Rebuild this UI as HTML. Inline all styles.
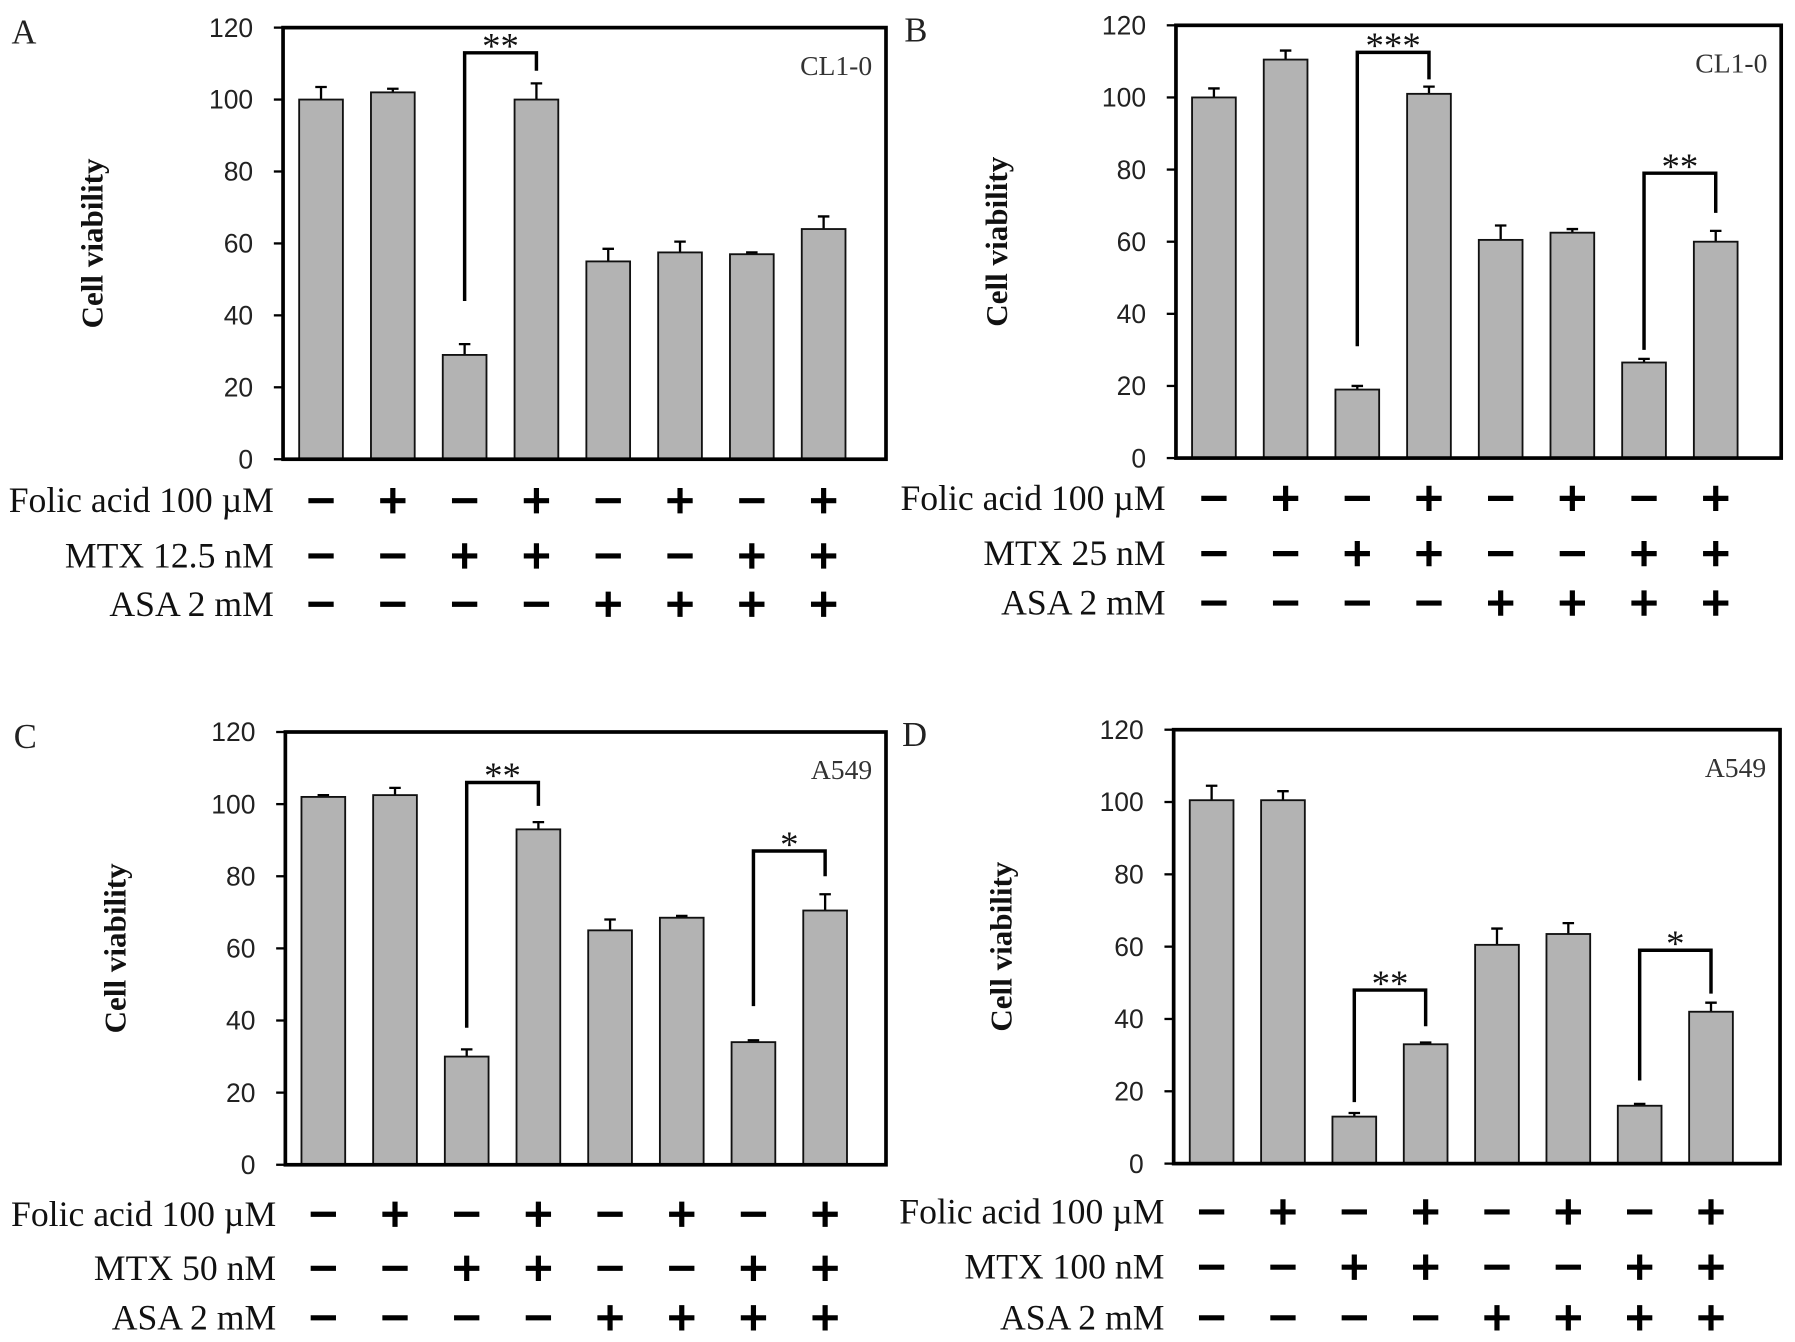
<!DOCTYPE html>
<html><head><meta charset="utf-8"><style>
html,body{margin:0;padding:0;background:#fff}
svg{display:block}
.tick{font-family:"Liberation Sans",sans-serif;font-size:23px;fill:#222}
.lab{font-family:"Liberation Serif",serif;font-size:31px;fill:#111}
.let{font-family:"Liberation Serif",serif;font-size:30px;fill:#222}
.cell{font-family:"Liberation Serif",serif;font-size:24px;fill:#333}
.yt{font-family:"Liberation Serif",serif;font-size:27px;font-weight:bold;fill:#111}
.star{font-family:"Liberation Serif",serif;font-size:32px;fill:#111}
</style></head><body>
<svg id="fig" width="1795" height="1342" viewBox="0 0 1560 1166" preserveAspectRatio="none" xmlns="http://www.w3.org/2000/svg"></svg>
<script>
const ticks=[0,20,40,60,80,100,120];
const folic=[0,1,0,1,0,1,0,1];
const mtx=[0,0,1,1,0,0,1,1];
const asa=[0,0,0,0,1,1,1,1];
const valsA=[100,102,29,100,55,57.5,57,64];
const errA=[3.5,1,3,4.5,3.5,3,0.5,3.5];
const valsB=[100,110.5,19,101,60.5,62.5,26.5,60];
const errB=[2.5,2.5,1,2,4,1,1,3];
const valsC=[102,102.5,30,93,65,68.5,34,70.5];
const errC=[0.5,2,2,2,3,0.5,0.5,4.5];
const valsD=[100.5,100.5,13,33,60.5,63.5,16,42];
const errD=[4,2.5,1,0.5,4.5,3,0.5,2.5];
// brackets: [barFrom, barTo, topValue, leftLegEnd, rightLegEnd, label]
const sigA=[[2,3,113,44,108,"**"]];
const sigB=[[2,3,112.5,31,105,"***"],[6,7,79,30,68,"**"]];
const sigC=[[2,3,106,38,99.5,"**"],[6,7,87,44,80,"*"]];
const sigD=[[2,3,48,17,38,"**"],[6,7,59,23,47,"*"]];

const panels=[
 {id:"a",letter:"A",cell:"CL1-0",vals:valsA,err:errA,sig:sigA,L:246,R:770,T:24,B:399,x0:279,dx:62.4,rows:[435,483,525],labX:238,mtx:"MTX 12.5 nM",yT:80},
 {id:"b",letter:"B",cell:"CL1-0",vals:valsB,err:errB,sig:sigB,L:1022,R:1548,T:22,B:398,x0:1055,dx:62.3,rows:[433,481,524],labX:1013,mtx:"MTX 25 nM",yT:866},
 {id:"c",letter:"C",cell:"A549",vals:valsC,err:errC,sig:sigC,L:248,R:770,T:636,B:1012,x0:281,dx:62.3,rows:[1055,1102,1145],labX:240,mtx:"MTX 50 nM",yT:100},
 {id:"d",letter:"D",cell:"A549",vals:valsD,err:errD,sig:sigD,L:1020,R:1547,T:634,B:1011,x0:1053,dx:62,rows:[1053,1101,1145],labX:1012,mtx:"MTX 100 nM",yT:870}
];
const NS="http://www.w3.org/2000/svg";
const svg=document.getElementById('fig');
function mk(tag,attrs,parent,text){const e=document.createElementNS(NS,tag);for(const k in attrs)e.setAttribute(k,attrs[k]);if(text!==undefined)e.textContent=text;(parent||svg).appendChild(e);return e;}
panels.forEach(p=>{
 const g=mk('g',{});
 
 
 const y=v=>p.B-(v/120)*(p.B-p.T);
 const x=i=>p.x0+i*p.dx;
 const t=mk('text',{x:p.L-236,y:p.T+14,class:'let'},g,p.letter);
 
 
 ticks.forEach(v=>{
  const tl=mk('text',{x:p.L-26,y:y(v)+8,class:'tick','text-anchor':'end'},g,String(v));
  
  
  mk('line',{x1:p.L-8,x2:p.L,y1:y(v),y2:y(v),stroke:'#000','stroke-width':2},g);
 });
 const yt=mk('text',{x:p.yT,y:(p.T+p.B)/2,class:'yt','text-anchor':'middle',transform:`rotate(-90 ${p.yT} ${(p.T+p.B)/2})`,dy:9},g,'Cell viability');
 
 
 p.vals.forEach((v,i)=>{
  const cx=x(i);
  const eb=mk('path',{d:`M${cx} ${y(v)} V${y(v+p.err[i])} M${cx-5} ${y(v+p.err[i])} H${cx+5}`,stroke:'#000','stroke-width':2,fill:'none'},g);
  
  
  const b=mk('rect',{x:cx-19,y:y(v),width:38,height:p.B-y(v),fill:'#b3b3b3',stroke:'#111','stroke-width':1.6},g);
  
  
 });
 const fr=mk('rect',{x:p.L,y:p.T,width:p.R-p.L,height:p.B-p.T,fill:'none',stroke:'#000','stroke-width':3.2},g);
 
 
 const cl=mk('text',{x:p.R-12,y:p.T+41,class:'cell','text-anchor':'end'},g,p.cell);
 
 
 p.sig.forEach(s=>{
  const a=x(s[0]),b2=x(s[1]);
  const br=mk('path',{d:`M${a} ${y(s[3])} V${y(s[2])} H${b2} V${y(s[4])}`,stroke:'#000','stroke-width':3,fill:'none'},g);
  
  
  const st=mk('text',{x:(a+b2)/2,y:y(s[2])+5,class:'star','text-anchor':'middle'},g,s[5]);
  
  
 });
 const rowsData=[["Folic acid 100 µM",folic],[p.mtx,mtx],["ASA 2 mM",asa]];
 rowsData.forEach((r,ri)=>{
  const ry=p.rows[ri];
  const rl=mk('text',{x:p.labX,y:ry+10,class:'lab','text-anchor':'end'},g,r[0]);
  
  
  r[1].forEach((on,i)=>{
   const cx=x(i);
   const d=on?`M${cx-11} ${ry} H${cx+11} M${cx} ${ry-11} V${ry+11}`:`M${cx-11} ${ry} H${cx+11}`;
   const s=mk('path',{d:d,stroke:'#000','stroke-width':4.5,fill:'none'},g);
   
   
  });
 });
});
</script>
</body></html>
